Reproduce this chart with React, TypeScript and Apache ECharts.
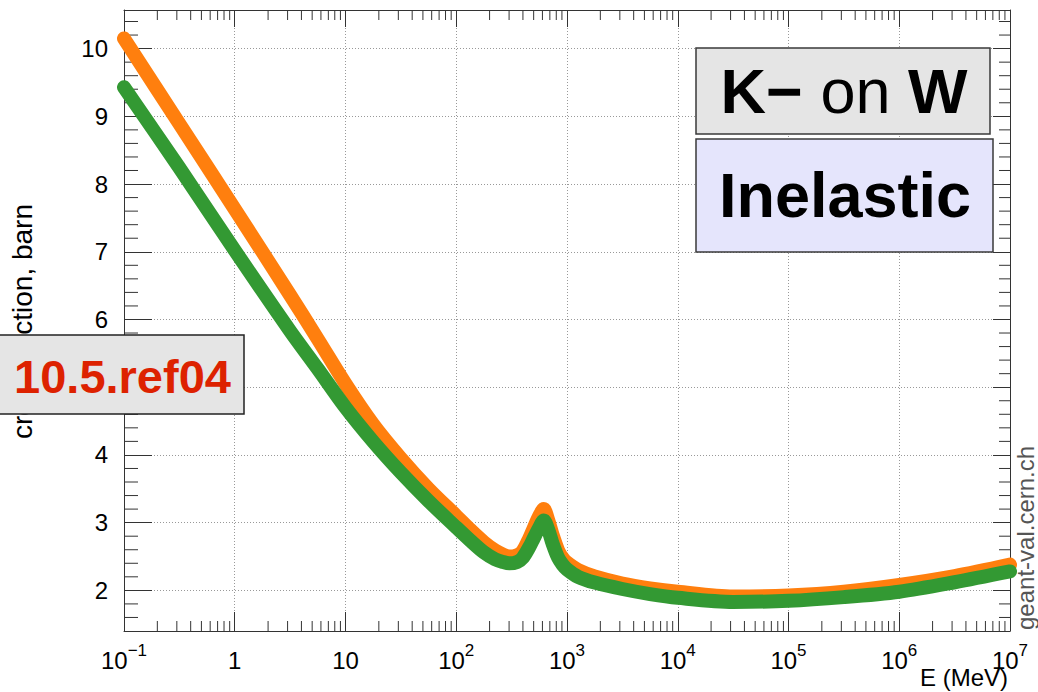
import React, { useEffect, useRef } from 'react';
import * as echarts from 'echarts';

// ---- data ----
const energies = [0.1, 0.316, 1, 3.16, 5.62, 10, 17.8, 31.6, 56.2, 100, 133, 178, 224, 263, 302, 355, 398, 457, 501, 562, 617, 676, 741, 832, 912, 1000, 1259, 1778, 3162, 5623, 1e4, 31623, 1e5, 316228, 1e6, 3162278, 1e7];
const orangeValues = [10.15, 8.89, 7.63, 6.36, 5.71, 5.05, 4.45, 3.95, 3.50, 3.10, 2.90, 2.71, 2.59, 2.53, 2.50, 2.52, 2.58, 2.77, 2.92, 3.10, 3.20, 3.04, 2.82, 2.59, 2.48, 2.41, 2.30, 2.205, 2.10, 2.03, 1.98, 1.91, 1.925, 1.98, 2.08, 2.21, 2.38];
const greenValues = [9.43, 8.24, 7.02, 5.83, 5.27, 4.70, 4.195, 3.74, 3.32, 2.93, 2.74, 2.56, 2.46, 2.42, 2.40, 2.42, 2.48, 2.64, 2.77, 2.93, 3.03, 2.90, 2.69, 2.48, 2.38, 2.31, 2.20, 2.115, 2.02, 1.945, 1.89, 1.83, 1.845, 1.90, 1.98, 2.12, 2.28];

const X_MIN = 0.1;
const X_MAX = 1e7;
const Y_MIN = 1.4;
const Y_MAX = 10.57;

const decades = [0.1, 1, 10, 100, 1000, 1e4, 1e5, 1e6];
const minorMultipliers = [2, 3, 4, 5, 6, 7, 8, 9];
const yMinorTicks: number[] = [];
for (let i = 8; i <= 52; i++) if (i % 5 !== 0) yMinorTicks.push(i / 5);
const xMinorTicks: number[] = [];
for (const d of decades) for (const m of minorMultipliers) xMinorTicks.push(m * d);

const AXIS_COLOR = '#333';
const FONT = 'Liberation Sans, Arial, Helvetica, sans-serif';

export default function App() {
  const ref = useRef<HTMLDivElement>(null);
  useEffect(() => {
    if (!ref.current) return;
    const chart = echarts.init(ref.current, undefined, { renderer: 'svg' });
    const gridLine = { show: true, lineStyle: { color: '#999', type: [1, 2] as any, width: 1 } };
    const option: any = {
      animation: false,
      backgroundColor: '#fff',
      grid: { left: 124, top: 10, width: 886, height: 621, containLabel: false },
      xAxis: [
        {
          type: 'log', logBase: 10, min: X_MIN, max: X_MAX, position: 'bottom',
          axisLine: { show: true, lineStyle: { color: AXIS_COLOR, width: 1 } },
          axisTick: { show: true, inside: true, length: 19, lineStyle: { color: AXIS_COLOR } },
          minorTick: { show: false },
          splitLine: gridLine,
          axisLabel: {
            show: true, margin: 11, showMinLabel: true, showMaxLabel: true,
            formatter: (v: number) => {
              const e = Math.round(Math.log10(v));
              if (e === 0) return '{b|1}';
              if (e === 1) return '{b|10}';
              return `{b|10}{s|${e < 0 ? '\u2212' + (-e) : e}}`;
            },
            rich: {
              b: { fontSize: 24, fontFamily: FONT, color: '#000', lineHeight: 30, verticalAlign: 'bottom' },
              s: { fontSize: 17, fontFamily: FONT, color: '#000', lineHeight: 17, verticalAlign: 'top' },
            },
          },
        },
        {
          type: 'log', logBase: 10, min: X_MIN, max: X_MAX, position: 'top',
          axisLine: { show: true, lineStyle: { color: AXIS_COLOR, width: 1 } },
          axisTick: { show: true, inside: true, length: 17, lineStyle: { color: AXIS_COLOR } },
          axisLabel: { show: false },
          splitLine: { show: false },
        },
      ],
      yAxis: [
        {
          type: 'value', min: Y_MIN, max: Y_MAX, splitNumber: 9, position: 'left',
          axisLine: { show: true, lineStyle: { color: AXIS_COLOR, width: 1 } },
          axisTick: { show: true, inside: true, length: 28, lineStyle: { color: AXIS_COLOR } },
          splitLine: gridLine,
          axisLabel: {
            show: true, margin: 16, showMinLabel: false, showMaxLabel: false,
            fontSize: 24, fontFamily: FONT, color: '#000',
            formatter: (v: number) => (Math.abs(v - Math.round(v)) < 1e-6 ? String(Math.round(v)) : ''),
          },
        },
        {
          type: 'value', min: Y_MIN, max: Y_MAX, splitNumber: 9, position: 'right',
          axisLine: { show: true, lineStyle: { color: AXIS_COLOR, width: 1 } },
          axisTick: { show: true, inside: true, length: 17, lineStyle: { color: AXIS_COLOR } },
          splitLine: { show: false },
          axisLabel: { show: false },
        },
      ],
      series: [
        {
          type: 'custom', name: 'xminor', silent: true, xAxisIndex: 0, yAxisIndex: 0,
          data: xMinorTicks.map((v) => [v, Y_MIN]),
          renderItem: (params: any, api: any) => {
            const cs = params.coordSys;
            const x = api.coord([api.value(0), Y_MIN])[0];
            const bottom = cs.y + cs.height;
            return {
              type: 'group',
              children: [
                { type: 'line', shape: { x1: x, y1: bottom, x2: x, y2: bottom - 10 }, style: { stroke: AXIS_COLOR, lineWidth: 1 } },
                { type: 'line', shape: { x1: x, y1: cs.y, x2: x, y2: cs.y + 10 }, style: { stroke: AXIS_COLOR, lineWidth: 1 } },
              ],
            };
          },
          z: 1,
        },
        {
          type: 'custom', name: 'yminor', silent: true, xAxisIndex: 0, yAxisIndex: 0,
          data: yMinorTicks.map((v) => [X_MIN, v]),
          renderItem: (params: any, api: any) => {
            const cs = params.coordSys;
            const y = api.coord([X_MIN, api.value(1)])[1];
            const right = cs.x + cs.width;
            return {
              type: 'group',
              children: [
                { type: 'line', shape: { x1: cs.x, y1: y, x2: cs.x + 14, y2: y }, style: { stroke: AXIS_COLOR, lineWidth: 1 } },
                { type: 'line', shape: { x1: right, y1: y, x2: right - 11, y2: y }, style: { stroke: AXIS_COLOR, lineWidth: 1 } },
              ],
            };
          },
          z: 1,
        },
        {
          type: 'line', name: 'orange', xAxisIndex: 0, yAxisIndex: 0,
          data: energies.map((e, i) => [e, orangeValues[i]]),
          showSymbol: false, smooth: 0.3,
          lineStyle: { color: '#ff7f0e', width: 14, cap: 'round', join: 'round' },
          z: 3,
        },
        {
          type: 'line', name: 'green', xAxisIndex: 0, yAxisIndex: 0,
          data: energies.map((e, i) => [e, greenValues[i]]),
          showSymbol: false, smooth: 0.3,
          lineStyle: { color: '#339933', width: 14, cap: 'round', join: 'round' },
          z: 4,
        },
      ],
      graphic: [
        {
          type: 'text', x: 22, y: 204, rotation: Math.PI / 2, z: 10,
          style: { text: 'cross section, barn', fontSize: 28, fontFamily: FONT, fill: '#000', align: 'right', verticalAlign: 'middle', textAlign: 'right', textVerticalAlign: 'middle' },
        },
        {
          type: 'text', x: 1025, y: 630, rotation: Math.PI / 2, z: 10,
          style: { text: 'geant-val.cern.ch', fontSize: 24, fontFamily: FONT, fill: '#555', align: 'left', verticalAlign: 'middle', textAlign: 'left', textVerticalAlign: 'middle' },
        },
        {
          type: 'text', x: 1008, y: 677, z: 10,
          style: { text: 'E (MeV)', fontSize: 24, fontFamily: FONT, fill: '#000', align: 'right', verticalAlign: 'middle', textAlign: 'right', textVerticalAlign: 'middle' },
        },
        {
          type: 'rect', z: 20, shape: { x: 696, y: 48, width: 294, height: 86 },
          style: { fill: '#e5e5e5', stroke: '#3a3a3a', lineWidth: 1.5 },
        },
        {
          type: 'text', x: 844, y: 91, z: 21,
          style: {
            text: '{b|K\u2212}{n| on }{b|W}', align: 'center', verticalAlign: 'middle', textAlign: 'center', textVerticalAlign: 'middle',
            rich: {
              b: { fontSize: 63, fontWeight: 'bold', fontFamily: FONT, fill: '#000', color: '#000' },
              n: { fontSize: 63, fontWeight: 'normal', fontFamily: FONT, fill: '#000', color: '#000' },
            },
          },
        },
        {
          type: 'rect', z: 20, shape: { x: 696, y: 139, width: 297, height: 113 },
          style: { fill: '#e5e5fc', stroke: '#3a3a3a', lineWidth: 1.5 },
        },
        {
          type: 'text', x: 845, y: 195, z: 21,
          style: { text: 'Inelastic', fontSize: 63, fontWeight: 'bold', fontFamily: FONT, fill: '#000', align: 'center', verticalAlign: 'middle', textAlign: 'center', textVerticalAlign: 'middle' },
        },
        {
          type: 'rect', z: 20, shape: { x: -2, y: 335, width: 246, height: 79 },
          style: { fill: '#e5e5e5', stroke: '#222', lineWidth: 1.5 },
        },
        {
          type: 'text', x: 122.5, y: 376, z: 21,
          style: { text: '10.5.ref04', fontSize: 47, fontWeight: 'bold', fontFamily: FONT, fill: '#dd2200', align: 'center', verticalAlign: 'middle', textAlign: 'center', textVerticalAlign: 'middle' },
        },
      ],
    };
    chart.setOption(option);
    return () => chart.dispose();
  }, []);
  return <div ref={ref} style={{ position: 'fixed', left: 0, top: 0, width: 1038, height: 692, background: '#fff' }} />;
}
